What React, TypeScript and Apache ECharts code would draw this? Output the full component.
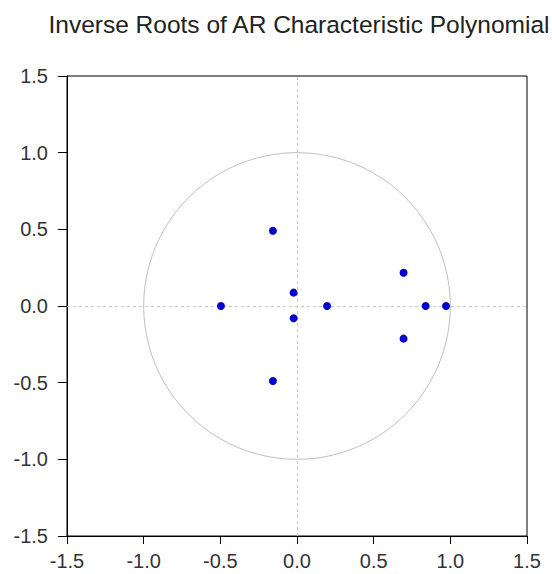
import React, { useEffect, useRef } from "react";
import * as echarts from "echarts";

const titleText = "Inverse Roots of AR Characteristic Polynomial";
const rootRe = [-0.157, -0.157, -0.022, -0.022, -0.496, 0.196, 0.695, 0.695, 0.839, 0.972];
const rootIm = [0.491, -0.489, 0.087, -0.080, 0.0, 0.0, 0.217, -0.213, 0.0, 0.0];
const axisMin = -1.5;
const axisMax = 1.5;
const axisStep = 0.5;
const unitCircle = [[0, 0, 1]];

export default function App() {
  const ref = useRef<HTMLDivElement>(null);
  useEffect(() => {
    if (!ref.current) return;
    const chart = echarts.init(ref.current, undefined, { renderer: "svg" });
    const font = "'Liberation Sans', Arial, sans-serif";
    const labelBase = {
      color: "#333",
      fontFamily: font,
      fontSize: 20,
      formatter: (v: number) => v.toFixed(1),
    };
    const axisCommon = {
      type: "value",
      min: axisMin,
      max: axisMax,
      interval: axisStep,
      axisLine: { show: true, onZero: false, lineStyle: { color: "#000", width: 1 } },
      splitLine: { show: false },
    };
    chart.setOption({
      animation: false,
      backgroundColor: "#fff",
      title: {
        text: titleText,
        left: 294,
        top: 7,
        textAlign: "center",
        textStyle: { fontFamily: font, fontSize: 24.5, fontWeight: "normal", color: "#222" },
      },
      grid: {
        left: 67,
        top: 76,
        width: 460,
        height: 460,
        show: true,
        borderColor: "#000",
        borderWidth: 1,
        backgroundColor: "#fff",
      },
      xAxis: {
        ...axisCommon,
        axisTick: { show: true, inside: false, length: 8, lineStyle: { color: "#000" } },
        axisLabel: { ...labelBase, margin: 15 },
      },
      yAxis: {
        ...axisCommon,
        axisTick: { show: true, inside: false, length: 9, lineStyle: { color: "#000" } },
        axisLabel: { ...labelBase, margin: 19 },
      },
      series: [
        {
          type: "custom",
          data: unitCircle,
          silent: true,
          z: 1,
          renderItem: (params: any, api: any) => {
            const c = api.coord([api.value(0), api.value(1)]);
            const r = api.size([api.value(2), api.value(2)])[0];
            return {
              type: "circle",
              shape: { cx: c[0], cy: c[1], r },
              style: { fill: "none", stroke: "#c0c0c0", lineWidth: 1 },
            };
          },
        },
        {
          type: "scatter",
          data: rootRe.map((x, i) => [x, rootIm[i]]),
          symbol: "circle",
          symbolSize: 8,
          itemStyle: { color: "#0000cc", opacity: 1 },
          z: 3,
          markLine: {
            silent: true,
            symbol: ["none", "none"],
            label: { show: false },
            lineStyle: { color: "#c8c8c8", type: [3, 3], width: 1 },
            data: [{ xAxis: 0 }, { yAxis: 0 }],
            z: 2,
          },
        },
      ],
    });
    return () => chart.dispose();
  }, []);
  return (
    <div
      ref={ref}
      style={{ position: "fixed", left: 0, top: 0, width: 552, height: 574 }}
    />
  );
}
